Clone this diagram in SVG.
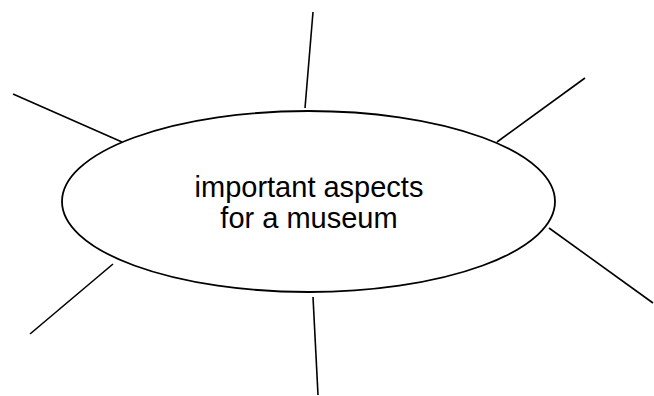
<svg xmlns="http://www.w3.org/2000/svg" width="654" height="396" viewBox="0 0 654 396">
<style>
.bg{fill:#ffffff}
.node{fill:#ffffff;stroke:#000000;stroke-width:1.8}
.spoke{stroke:#000000;stroke-width:1.6;fill:none;stroke-linecap:butt}
.label{font-family:"Liberation Sans",Arial,sans-serif;font-size:29px;fill:#000000;text-anchor:middle}
</style>
<rect class="bg" x="0" y="0" width="654" height="396"/>
<g id="connectors">
<line class="spoke" x1="313" y1="12" x2="305" y2="108"/>
<line class="spoke" x1="585" y1="78" x2="497" y2="142"/>
<line class="spoke" x1="13" y1="94" x2="122" y2="142"/>
<line class="spoke" x1="549" y1="228" x2="653" y2="303"/>
<line class="spoke" x1="113" y1="264" x2="30" y2="334"/>
<line class="spoke" x1="313" y1="297" x2="318" y2="395"/>
</g>
<g id="center-node">
<ellipse class="node" cx="308.5" cy="201.5" rx="246.5" ry="90.5"/>
<text class="label" x="309" y="197">important aspects</text>
<text class="label" x="309" y="228">for a museum</text>
</g>
</svg>
